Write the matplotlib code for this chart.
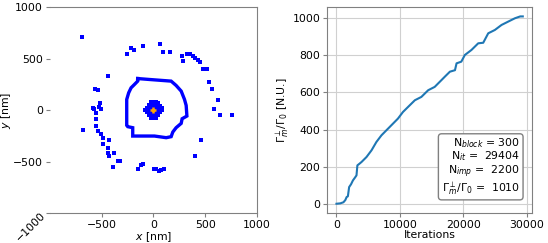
import matplotlib.pyplot as plt
import numpy as np

# --- left panel: positions [nm] ---
dots_x = [-694, -255, -216, -184, -97, 61, 97, 161, 277, 326, 355, 381, 406, 432, 452,
          290, 477, 516, 535, 561, 623, 581, 639, 758, -435, -561, -535, -516, -523,
          -581, -571, -506, -677, -555, -555, -555, -539, -506, -490, -490, -432,
          -435, -435, -426, -377, -394, -339, -323, -152, -119, -97, 3, 26, 52, 74,
          100, 461, 403]
dots_y = [706, 548, 603, 581, 626, 645, 565, 565, 523, 545, 545, 523, 506, 490, 468,
          474, 403, 400, 271, 200, 94, 13, -52, -52, 326, 206, 194, 71, 32,
          23, 6, 6, -194, -26, -90, -155, -203, -235, -268, -332, -290,
          -371, -413, -445, -413, -548, -490, -490, -568, -532, -526, -568, -574, -587, -581,
          -574, -290, -445]

ring_x = [-152, -39, 171, 219, 268, 300, 316, 323, 277, 268, 219, 187, 171, 123, 10,
          -200, -200, -248, -258, -258, -239, -216, -184, -152, -152]
ring_y = [306, 297, 281, 239, 184, 103, 45, -58, -84, -129, -171, -213, -258, -268, -252,
          -252, -171, -161, -148, 103, 168, 216, 248, 281, 306]

blob_x = [-20, 0, 20, 40, -40, -20, 0, 20, 40, 60, -60, -40, -20, 0, 20, 40, 60, 80,
          -80, -60, -40, -20, 0, 20, 40, 60, 80, -60, -40, -20, 0, 20, 40, 60,
          -40, -20, 0, 20, 40, -20, 0, 20]
blob_y = [80, 80, 80, 70, 50, 50, 50, 50, 50, 40, 20, 20, 20, 20, 20, 20, 20, 20,
          0, 0, 0, 0, 0, 0, 0, 0, 0, -20, -20, -20, -20, -20, -20, -20,
          -50, -50, -50, -50, -50, -80, -80, -80]

# --- right panel: cumulative curve ---
iters = [0, 600, 1100, 1400, 1600, 1800, 2000, 2300, 2600, 2900, 3160, 3300, 3600,
         3950, 4740, 5530, 6300, 7100, 8400, 9700, 10500, 11300, 12370, 13400, 14470,
         15500, 16580, 17100, 17900, 18700, 18950, 19700, 20260, 21300, 22370, 23160,
         23950, 25000, 26050, 27100, 28160, 29000, 29404]
gamma = [0, 2, 8, 20, 36, 40, 90, 105, 126, 140, 153, 207, 215, 225, 252, 288, 333,
         369, 414, 459, 495, 522, 558, 576, 612, 630, 667, 685, 712, 720, 757, 766, 802,
         829, 865, 868, 919, 937, 964, 982, 1000, 1010, 1010]

legend_txt = ("N$_{block}$ = 300\n"
              "N$_{it}$ =  29404\n"
              "N$_{imp}$ =  2200\n"
              r"$\Gamma_m^{\perp}/\Gamma_0$ =  1010")

fs = 7.8
fig = plt.figure(figsize=(5.48, 2.43), dpi=100)
ax1 = fig.add_axes([0.091, 0.123, 0.378, 0.848])
ax2 = fig.add_axes([0.597, 0.123, 0.374, 0.848])

ax1.plot(ring_x, ring_y, color='blue', lw=2.4, solid_joinstyle='miter')
ax1.scatter(dots_x, dots_y, s=7, marker='s', color='blue', linewidths=0)
ax1.scatter(blob_x, blob_y, s=10, marker='s', color='blue', linewidths=0)
ax1.plot([0], [0], marker='+', color='orange', ms=5, mew=1.8)
ax1.set_xlim(-1000, 1000)
ax1.set_ylim(-1000, 1000)
ax1.set_xticks([-500, 0, 500, 1000])
ax1.set_yticks([-1000, -500, 0, 500, 1000])
ax1.spines['left'].set_visible(False)
for s in ['top', 'right', 'bottom']:
    ax1.spines[s].set_color('gray')
ax1.tick_params(labelsize=fs, color='gray', length=3, pad=2)
lab = ax1.get_yticklabels()[0]
lab.set_rotation(45)
lab.set_rotation_mode('anchor')
ax1.set_xlabel('$x$ [nm]', fontsize=fs, labelpad=0)
ax1.set_ylabel('$y$ [nm]', fontsize=fs, labelpad=0)

ax2.plot(iters, gamma, color='#1f77b4', lw=1.5)
ax2.grid(color='#d0d0d0', lw=0.8)
ax2.set_axisbelow(True)
for s in ax2.spines.values():
    s.set_color('gray')
ax2.tick_params(labelsize=fs, color='gray', length=3, pad=2)
ax2.set_xticks([0, 10000, 20000, 30000])
ax2.set_xlabel('Iterations', fontsize=fs, labelpad=0)
ax2.set_ylabel(r'$\Gamma_m^{\perp}/\Gamma_0$ [N.U.]', fontsize=fs, labelpad=1)
ax2.text(0.94, 0.08, legend_txt, transform=ax2.transAxes, ha='right', va='bottom',
         fontsize=fs, linespacing=1.0,
         bbox=dict(boxstyle='round,pad=0.3', fc='white', ec='gray'))

fig.savefig('out.png', dpi=100)
